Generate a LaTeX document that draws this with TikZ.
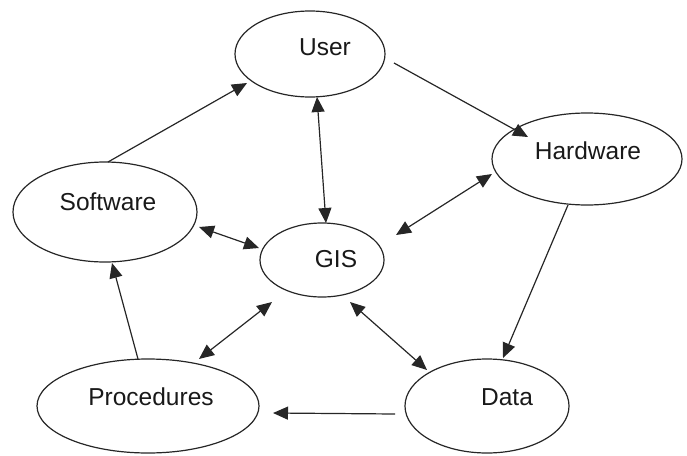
\documentclass[tikz,border=0pt]{standalone}
\usepackage{fontspec}
\setmainfont{Liberation Sans}
\usetikzlibrary{arrows.meta,calc,shapes.geometric}
\begin{document}
\begin{tikzpicture}[x=1pt,y=-1pt,
  oval/.style={draw=black!85,line width=1.2pt,ellipse,inner sep=0pt,outer sep=0pt},
  txt/.style={anchor=base,inner sep=0pt,font=\fontsize{24.5}{28}\selectfont,text=black!90},
  link/.style={line width=1.2pt,draw=black!85},
  tip/.style={-{Triangle[length=15pt,width=13pt]}},
  both/.style={{Triangle[length=15pt,width=13pt]}-{Triangle[length=15pt,width=13pt]}}]
\useasboundingbox (0,0) rectangle (687,455);
\node[oval,minimum width=150pt,minimum height=86pt] (user) at (310,54) {};
\node[oval,minimum width=190pt,minimum height=92pt] (hw) at (587,159) {};
\node[oval,minimum width=184pt,minimum height=100pt] (sw) at (105,212) {};
\node[oval,minimum width=124pt,minimum height=74pt] (gis) at (322,260) {};
\node[oval,minimum width=222pt,minimum height=94pt] (proc) at (148,406) {};
\node[oval,minimum width=164pt,minimum height=94pt] (data) at (487,406) {};
\node[txt] (userT) at (325,55) {User};
\node[txt] (hwT) at (588,159) {Hardware};
\node[txt] (swT) at (108,210) {Software};
\node[txt] (gisT) at (336,267) {GIS};
\node[txt] (procT) at (151,405) {Procedures};
\node[txt] (dataT) at (507,405) {Data};
\draw[link,tip] ($(sw)+(3,-50)$) -- ($(user)+(-63,29)$);
\draw[link,tip] ($(user)+(84,9)$) -- ($(hw)+(-59,-22)$);
\draw[link,both] ($(user)+(7,43)$) -- ($(gis)+(4,-37)$);
\draw[link,both] ($(hw)+(-95,15)$) -- ($(gis)+(74,-25)$);
\draw[link,both] ($(sw)+(94,15)$) -- ($(gis)+(-63,-12)$);
\draw[link,tip] ($(hw)+(-19,46)$) -- ($(data)+(16,-48)$);
\draw[link,both] ($(gis)+(28,42)$) -- ($(data)+(-60,-36)$);
\draw[link,both] ($(proc)+(51,-47)$) -- ($(gis)+(-50,42)$);
\draw[link,tip] ($(data)+(-92,8)$) -- ($(proc)+(125,7)$);
\draw[link,tip] ($(proc)+(-10,-47)$) -- ($(sw)+(7,51)$);
\end{tikzpicture}
\end{document}
